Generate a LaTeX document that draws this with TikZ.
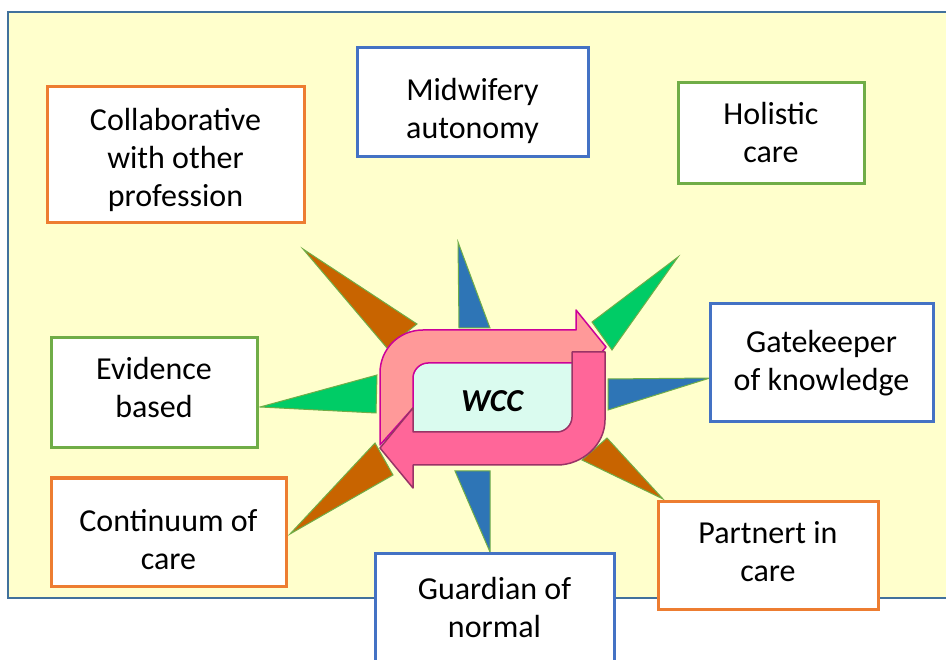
\documentclass[tikz,border=0pt]{standalone}
\usepackage{fontspec}
\setmainfont{Carlito}
\usepackage{xcolor}
\usetikzlibrary{calc}

\definecolor{paper}{HTML}{FFFFCC}
\definecolor{frame}{HTML}{41719C}
\definecolor{orng}{HTML}{ED7D31}
\definecolor{blu}{HTML}{4472C4}
\definecolor{grn}{HTML}{70AD47}
\definecolor{rust}{HTML}{C86400}
\definecolor{sea}{HTML}{2E75B6}
\definecolor{leaf}{HTML}{00CC66}
\definecolor{mint}{HTML}{DAFBEF}
\definecolor{salmon}{HTML}{FF9999}
\definecolor{rose}{HTML}{FF6699}
\definecolor{fuchsia}{HTML}{CC0099}
\definecolor{plum}{HTML}{993366}

\newcommand{\hgt}[1]{\rule{0pt}{#1pt}}
\newcommand{\dpt}{\rule[-16pt]{0pt}{0pt}}

\tikzset{
  box/.style={draw, fill=white, line width=3pt, align=center, inner sep=0pt,
    font=\fontsize{32}{38}\selectfont},
  spike/.style={draw=grn, line width=1pt}
}

\begin{document}
\begin{tikzpicture}[x=1pt,y=-1pt]
\useasboundingbox (0,0) rectangle (946,660);
\clip (0,0) rectangle (946,660);
\filldraw[draw=frame, fill=paper, line width=2pt] (8,12) rectangle (960,598);

\filldraw[spike, fill=rust] (303,249) -- (417,324) -- (387,348) -- cycle;
\filldraw[spike, fill=sea] (458,242) -- (459,328) -- (490,328) -- cycle;
\filldraw[spike, fill=leaf] (678,257) -- (592,322) -- (612,350) -- cycle;
\filldraw[spike, fill=leaf] (260,407) -- (377,375) -- (376,413) -- cycle;
\filldraw[spike, fill=sea] (710,378) -- (608,379) -- (608,410) -- cycle;
\filldraw[spike, fill=rust] (290,534) -- (375,443) -- (393,475) -- cycle;
\filldraw[spike, fill=sea] (490,552) -- (455,471) -- (490,471) -- cycle;
\filldraw[spike, fill=rust] (663,499) -- (607,438) -- (582,460) -- cycle;

\node[box, draw=orng, minimum width=257pt, minimum height=134pt] (collab) at (175.5,155) {\hgt{44}Collaborative\\with other\\profession\dpt};
\node[box, draw=blu, minimum width=231pt, minimum height=109pt] (autonomy) at (472.5,102.5) {\hgt{51}Midwifery\\autonomy\dpt};
\node[box, draw=grn, minimum width=186pt, minimum height=101pt] (holistic) at (771,133.5) {\hgt{37}Holistic\\care\dpt};
\node[box, draw=blu, minimum width=223pt, minimum height=118pt] (gate) at (821.5,363) {\hgt{34}Gatekeeper\\of knowledge\dpt};
\node[box, draw=grn, minimum width=206pt, minimum height=110pt] (evidence) at (154,393) {\hgt{28}Evidence\\based\dpt};
\node[box, draw=orng, minimum width=235pt, minimum height=108pt] (continuum) at (168.5,532) {\hgt{52}Continuum of\\care\dpt};
\node[box, draw=orng, minimum width=220pt, minimum height=108pt] (partner) at (768,555) {\hgt{30}Partnert in\\care\dpt};
\node[box, draw=blu, minimum width=239pt, minimum height=114pt] (guardian) at (494.5,610) {\hgt{32}Guardian of\\normal\dpt};

\fill[mint] (413,363) rectangle (572,432);
\filldraw[draw=fuchsia, fill=salmon, line width=1.5pt, line join=round]
  (413,408) -- (380,445) -- (380,373) .. controls (380,349) and (399,330) .. (423,330)
  -- (576,330) -- (576,310) -- (606,347) -- (576,384) -- (576,363) -- (428,363)
  .. controls (420,363) and (413,370) .. (413,378) -- cycle;
\filldraw[draw=plum, fill=rose, line width=1.5pt, line join=round]
  (572,352) -- (605,352) -- (605,420) .. controls (605,445) and (582,465) .. (557,465)
  -- (413,465) -- (413,488) -- (380,448) -- (413,408) -- (413,432) -- (557,432)
  .. controls (565,432) and (572,425) .. (572,417) -- cycle;
\node[font=\fontsize{32}{36}\selectfont\bfseries\itshape] (wcc) at (492,401) {WCC};
\end{tikzpicture}
\end{document}
